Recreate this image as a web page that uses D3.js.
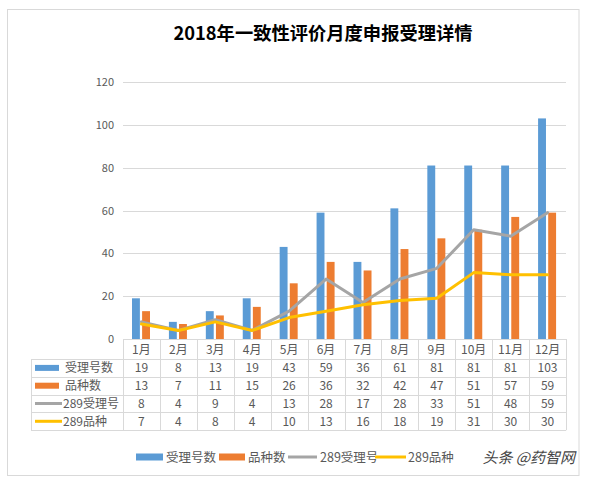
<!DOCTYPE html>
<html>
<head>
<meta charset="utf-8">
<script src="https://cdn.jsdelivr.net/npm/d3@7/dist/d3.min.js"></script>
<style>
  html, body { margin: 0; padding: 0; background: #fff; }
  svg { display: block; }
  text { font-family: "Noto Sans CJK SC", "Microsoft YaHei", sans-serif; }
</style>
</head>
<body>
<svg id="chart" width="590" height="481"></svg>
<script>
const title = "2018年一致性评价月度申报受理详情";
const months = ["1月","2月","3月","4月","5月","6月","7月","8月","9月","10月","11月","12月"];
const seriesNames = ["受理号数", "品种数", "289受理号", "289品种"];
const accepted = [19, 8, 13, 19, 43, 59, 36, 61, 81, 81, 81, 103];
const varieties = [13, 7, 11, 15, 26, 36, 32, 42, 47, 51, 57, 59];
const accepted289 = [8, 4, 9, 4, 13, 28, 17, 28, 33, 51, 48, 59];
const varieties289 = [7, 4, 8, 4, 10, 13, 16, 18, 19, 31, 30, 30];
const yTicks = [0, 20, 40, 60, 80, 100, 120];
const watermark = "头条 @药智网";

const colors = ["#5B9BD5", "#ED7D31", "#A5A5A5", "#FFC000"];
const seriesData = [accepted, varieties, accepted289, varieties289];
const kinds = ["bar", "bar", "line", "line"];

const svg = d3.select("#chart");
const gridColor = "#D9D9D9";
const textColor = "#595959";

// outer frame
svg.append("rect").attr("x", 7.5).attr("y", 9.5).attr("width", 571.5).attr("height", 466)
  .attr("fill", "#fff").attr("stroke", gridColor).attr("stroke-width", 1);

// title
svg.append("text").attr("x", 323).attr("y", 39.5).attr("text-anchor", "middle")
  .attr("font-size", 18.3).attr("font-weight", "bold").attr("fill", "#000").text(title);

const plotLeft = 123, plotRight = 566, plotTop = 82, plotBottom = 339;
const x = d3.scaleBand().domain(months).range([plotLeft, plotRight]).paddingInner(0).paddingOuter(0);
const y = d3.scaleLinear().domain([0, 120]).range([plotBottom, plotTop]);
const sub = d3.scaleBand().domain([0, 1]).range([9, 27]).paddingInner(0.22).paddingOuter(0);

// gridlines
svg.append("g").selectAll("line").data(yTicks.filter(d => d > 0)).join("line")
  .attr("x1", plotLeft).attr("x2", plotRight)
  .attr("y1", d => Math.round(y(d)) + 0.5).attr("y2", d => Math.round(y(d)) + 0.5)
  .attr("stroke", gridColor).attr("stroke-width", 1);

// y axis labels
const yAxis = d3.axisLeft(y).tickValues(yTicks).tickSize(0).tickPadding(0);
const yg = svg.append("g").attr("transform", `translate(114,0)`).call(yAxis);
yg.select(".domain").remove();
yg.selectAll("text").attr("font-size", 11).attr("fill", textColor)
  .attr("font-family", "'Noto Sans CJK SC', sans-serif");

// bars
[0, 1].forEach(si => {
  svg.append("g").selectAll("rect").data(seriesData[si]).join("rect")
    .attr("x", (d, i) => x(months[i]) + sub(si))
    .attr("width", sub.bandwidth())
    .attr("y", d => y(d))
    .attr("height", d => y(0) - y(d))
    .attr("fill", colors[si]);
});

// lines
[2, 3].forEach(si => {
  const line = d3.line().x((d, i) => x(months[i]) + x.bandwidth() / 2).y(d => y(d));
  svg.append("path").datum(seriesData[si]).attr("d", line)
    .attr("fill", "none").attr("stroke", colors[si]).attr("stroke-width", 3)
    .attr("stroke-linejoin", "round").attr("stroke-linecap", "round");
});

// data table
const tableLeft = 31;
const rowH = 17.8;
const headerBottom = 359;
const rowYs = d3.range(5).map(i => headerBottom + i * rowH);
const tg = svg.append("g");
tg.append("line").attr("x1", plotLeft).attr("x2", plotRight)
  .attr("y1", plotBottom + 0.5).attr("y2", plotBottom + 0.5).attr("stroke", gridColor);
tg.selectAll("line.h").data(rowYs).join("line").attr("class", "h")
  .attr("x1", tableLeft).attr("x2", plotRight)
  .attr("y1", d => Math.round(d) + 0.5).attr("y2", d => Math.round(d) + 0.5)
  .attr("stroke", gridColor);
const vxs = months.map(m => x(m)).concat([plotRight]);
tg.selectAll("line.v").data(vxs).join("line").attr("class", "v")
  .attr("x1", d => Math.round(d) + 0.5).attr("x2", d => Math.round(d) + 0.5)
  .attr("y1", plotBottom).attr("y2", rowYs[4])
  .attr("stroke", gridColor);
tg.append("line").attr("x1", tableLeft + 0.5).attr("x2", tableLeft + 0.5)
  .attr("y1", headerBottom).attr("y2", rowYs[4]).attr("stroke", gridColor);

tg.selectAll("text.m").data(months).join("text").attr("class", "m")
  .attr("x", m => x(m) + x.bandwidth() / 2).attr("y", (plotBottom + headerBottom) / 2 + 4.5)
  .attr("text-anchor", "middle").attr("font-size", 12).attr("fill", textColor).text(m => m);

seriesData.forEach((vals, si) => {
  const cy = rowYs[si] + rowH / 2;
  if (kinds[si] === "bar") {
    tg.append("rect").attr("x", 35).attr("y", cy - 3).attr("width", 24).attr("height", 6).attr("fill", colors[si]);
    tg.append("text").attr("x", 65).attr("y", cy + 4.5).attr("font-size", 12).attr("fill", textColor).text(seriesNames[si]);
  } else {
    tg.append("line").attr("x1", 35).attr("x2", 62).attr("y1", cy).attr("y2", cy)
      .attr("stroke", colors[si]).attr("stroke-width", 3);
    tg.append("text").attr("x", 63).attr("y", cy + 4.5).attr("font-size", 12).attr("fill", textColor).text(seriesNames[si]);
  }
  tg.selectAll(null).data(vals).join("text")
    .attr("x", (d, i) => x(months[i]) + x.bandwidth() / 2).attr("y", cy + 4.5)
    .attr("text-anchor", "middle").attr("font-size", 12).attr("fill", textColor).text(d => d);
});

// legend
const legY = 457;
const legendItems = [
  {kind: "bar", x: 136, w: 27, tx: 166},
  {kind: "bar", x: 219, w: 26, tx: 248},
  {kind: "line", x: 288, w: 29, tx: 320},
  {kind: "line", x: 375, w: 31, tx: 408}
];
const lg = svg.append("g");
legendItems.forEach((it, si) => {
  if (it.kind === "bar") {
    lg.append("rect").attr("x", it.x).attr("y", legY - 3.5).attr("width", it.w).attr("height", 7).attr("fill", colors[si]);
  } else {
    lg.append("line").attr("x1", it.x).attr("x2", it.x + it.w).attr("y1", legY).attr("y2", legY)
      .attr("stroke", colors[si]).attr("stroke-width", 3);
  }
  lg.append("text").attr("x", it.tx).attr("y", legY + 4.5).attr("font-size", 12.5).attr("fill", textColor).text(seriesNames[si]);
});

// watermark
svg.append("text").attr("x", 575).attr("y", legY + 5.5).attr("text-anchor", "end")
  .attr("font-size", 15).attr("fill", "#444").attr("font-style", "italic").text(watermark);
</script>
</body>
</html>
